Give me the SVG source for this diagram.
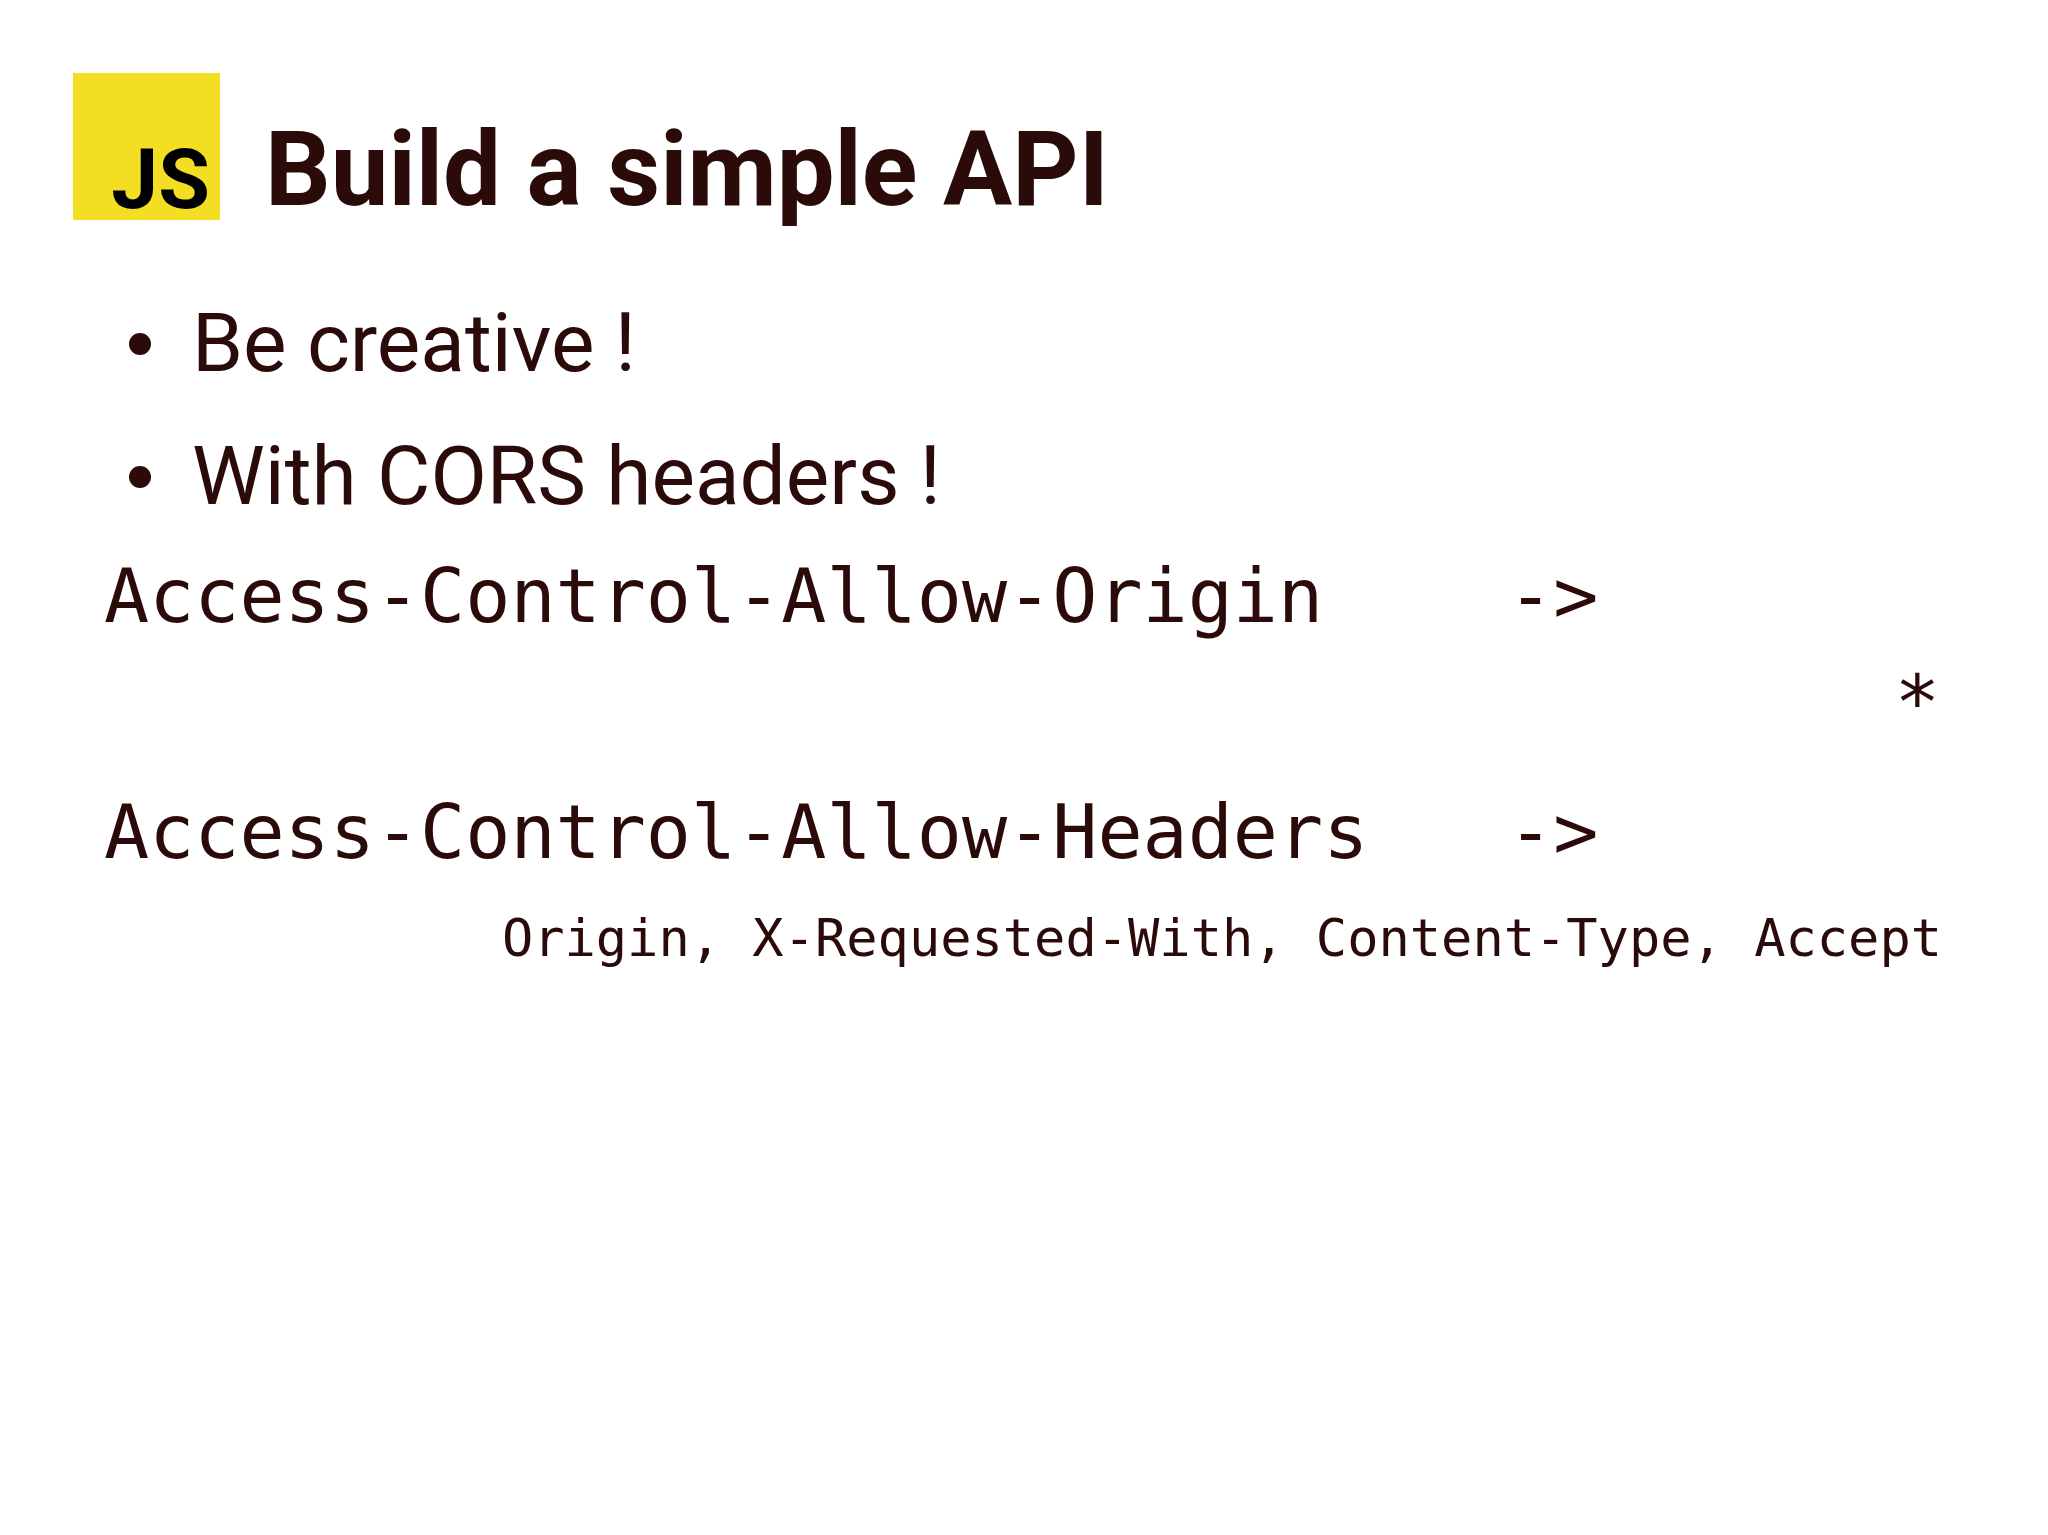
<svg xmlns="http://www.w3.org/2000/svg" width="2048" height="1535" viewBox="0 0 2048 1535">
<style>
.t{fill:#2b0a0a;font-family:Roboto,"Liberation Sans",sans-serif}
.m{fill:#2b0a0a;font-family:"DejaVu Sans Mono","Liberation Mono",monospace}
</style>
<rect width="2048" height="1535" fill="#ffffff"/>
<g id="logo">
<rect x="73" y="73" width="147" height="147" fill="#f3de23"/>
<text x="210" y="208" text-anchor="end" font-family="Roboto,sans-serif" font-weight="bold" font-size="84" fill="#000">JS</text>
</g>
<g id="title"><text class="t" x="265" y="205" font-size="103" font-weight="bold">Build a simple API</text></g>
<g id="bullets">
<circle cx="140" cy="344" r="11" fill="#2b0a0a"/>
<text class="t" x="192" y="371" font-size="82">Be creative !</text>
<circle cx="140" cy="477" r="11" fill="#2b0a0a"/>
<text class="t" x="192" y="504" font-size="82">With CORS headers !</text>
</g>
<g id="code">
<text class="m" x="104" y="622" font-size="75">Access-Control-Allow-Origin</text>
<text class="m" x="1508" y="622" font-size="75">-&gt;</text>
<text class="m" x="1940" y="728" font-size="75" text-anchor="end">*</text>
<text class="m" x="104" y="858" font-size="75">Access-Control-Allow-Headers</text>
<text class="m" x="1508" y="858" font-size="75">-&gt;</text>
<text class="m" x="1942" y="956" font-size="52" text-anchor="end">Origin, X-Requested-With, Content-Type, Accept</text>
</g>
</svg>
